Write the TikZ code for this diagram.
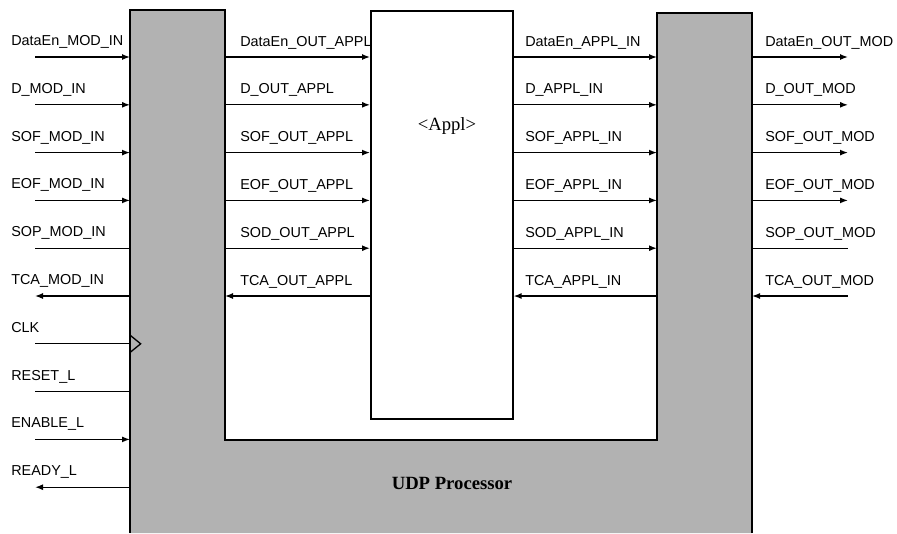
\documentclass[tikz,border=0pt]{standalone}
\usepackage{fontspec}
\setmainfont{Liberation Serif}
\setsansfont{Liberation Sans}
\usetikzlibrary{positioning,arrows.meta}
\definecolor{udpgrey}{HTML}{B2B2B2}
\tikzset{
  unit/.style={draw,line width=1.2pt},
  title/.style={font=\rmfamily\fontsize{14}{16}\selectfont,inner sep=0pt},
  sig/.style={font=\sffamily\fontsize{10.8}{12}\selectfont,anchor=base west,inner sep=0pt},
  wire/.style={line width=1pt},
  tofwd/.style={wire,-{Latex[length=6pt,width=4.5pt]}},
  toback/.style={wire,{Latex[length=6pt,width=4.5pt]}-}}

\begin{document}
\begin{tikzpicture}[x=0.75pt,y=-0.75pt]
  \useasboundingbox (0,0) rectangle (897,533);
  % processor wraps round the application
  \fill[udpgrey] (130,533) -- (130,10) -- (225,10) -- (225,440) -- (657,440) -- (657,13) -- (752,13) -- (752,533) -- cycle;
  \draw[unit] (130,533) -- (130,10) -- (225,10) -- (225,440) -- (657,440) -- (657,13) -- (752,13) -- (752,533);
  \node[unit,fill=white,anchor=north west,minimum width=106.5pt,minimum height=306pt,inner sep=0pt] (appl) at (370,10) {};
  \node[title] (appllbl) at (447,126) {<Appl>};
  \node[title,font=\rmfamily\bfseries\fontsize{14}{16}\selectfont] (udplbl) at (452,483) {UDP Processor};
  % module side, left
  \foreach \txt/\d [count=\i from 0] in {DataEn\_MOD\_IN/tofwd,D\_MOD\_IN/tofwd,SOF\_MOD\_IN/tofwd,EOF\_MOD\_IN/tofwd,SOP\_MOD\_IN/wire,TCA\_MOD\_IN/toback,CLK/wire,RESET\_L/wire,ENABLE\_L/tofwd,READY\_L/toback}{
    \coordinate (lm\i) at (35,{57+47.8*\i});
    \coordinate (lb\i) at (130,{57+47.8*\i});
    \node[sig] (lt\i) at (11,{45.5+47.8*\i}) {\txt};
    \draw[\d] (lm\i) -- (lb\i);
  }
  \draw[wire] ([yshift=6.5pt]lb6) -- ([xshift=8pt]lb6) -- ([yshift=-6.5pt]lb6);
  % towards the application
  \foreach \txt/\d [count=\i from 0] in {DataEn\_OUT\_APPL/tofwd,D\_OUT\_APPL/tofwd,SOF\_OUT\_APPL/tofwd,EOF\_OUT\_APPL/tofwd,SOD\_OUT\_APPL/tofwd,TCA\_OUT\_APPL/toback}{
    \coordinate (al\i) at (225,{57+47.8*\i});
    \node[sig] (at\i) at (240,{46+47.8*\i}) {\txt};
    \draw[\d] (al\i) -- (appl.west |- al\i);
  }
  % back from the application
  \foreach \txt/\d [count=\i from 0] in {DataEn\_APPL\_IN/tofwd,D\_APPL\_IN/tofwd,SOF\_APPL\_IN/tofwd,EOF\_APPL\_IN/tofwd,SOD\_APPL\_IN/tofwd,TCA\_APPL\_IN/toback}{
    \coordinate (ar\i) at (657,{57+47.8*\i});
    \node[sig] (bt\i) at (525,{46+47.8*\i}) {\txt};
    \draw[\d] (appl.east |- ar\i) -- (ar\i);
  }
  % module side, right
  \foreach \txt/\d [count=\i from 0] in {DataEn\_OUT\_MOD/tofwd,D\_OUT\_MOD/tofwd,SOF\_OUT\_MOD/tofwd,EOF\_OUT\_MOD/tofwd,SOP\_OUT\_MOD/wire,TCA\_OUT\_MOD/toback}{
    \coordinate (rb\i) at (752,{57+47.8*\i});
    \coordinate (rm\i) at (848,{57+47.8*\i});
    \node[sig] (rt\i) at (765,{46+47.8*\i}) {\txt};
    \draw[\d] (rb\i) -- (rm\i);
  }
\end{tikzpicture}
\end{document}
